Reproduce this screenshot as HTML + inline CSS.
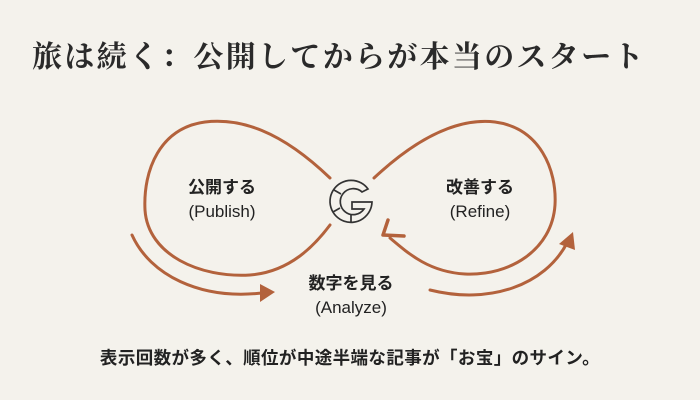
<!DOCTYPE html>
<html><head><meta charset="utf-8"><style>
html,body{margin:0;padding:0}
body{width:700px;height:400px;background:#f4f2ec;position:relative;overflow:hidden;font-family:"Liberation Sans","Noto Sans CJK JP",sans-serif;color:#222}
.t{position:absolute;left:32px;top:32px;font-family:"Liberation Serif","Noto Serif CJK SC",serif;font-weight:bold;font-size:30px;letter-spacing:2.3px;color:#2a2a2a;white-space:nowrap}
.b{position:absolute;left:0;width:700px;top:345px;text-align:center;font-weight:bold;font-size:17.5px;letter-spacing:0.4px;white-space:nowrap}
.l{position:absolute;text-align:center;font-size:17px;line-height:24px;width:140px}
</style></head><body>
<div class="t">旅は続く：公開してからが本当のスタート</div>
<svg width="700" height="400" style="position:absolute;left:0;top:0">
<g fill="none" stroke="#b3623c" stroke-width="3" stroke-linecap="round">
<path d="M330,178 C280,130 240,118 205,122 C160,128 143,170 145,210 C148,255 200,278 250,275 C290,272 315,245 330,225"/>
<path d="M374,178 C420,135 460,118 495,122 C540,128 557,170 555,205 C552,250 510,276 465,274 C430,272 410,255 390,238"/>
<path d="M383,235 L388,220 M383,235 L404,236" stroke-width="3.5"/>
<path d="M132,235 C150,275 200,300 262,293"/>
<path d="M430,290 C490,305 545,285 567,243"/>
</g>
<path d="M260,284 L275,292 L260,302 Z" fill="#b3623c"/>
<path d="M559,244 L573,232 L575,250 Z" fill="#b3623c"/>
<g fill="none" stroke="#333" stroke-width="1.7">
<path d="M368,189 A21,21 0 1 0 372,202 L352,202 L352,209 L364,209 A13,13 0 1 1 362,192 Z"/>
<path d="M334,190 L341,194 M333,212 L340,208 M351,222 L351,214"/>
</g>
</svg>
<div class="l" style="left:152px;top:176px"><b>公開する</b><br>(Publish)</div>
<div class="l" style="left:410px;top:176px"><b>改善する</b><br>(Refine)</div>
<div class="l" style="left:281px;top:272px"><b>数字を見る</b><br>(Analyze)</div>
<div class="b">表示回数が多く、順位が中途半端な記事が「お宝」のサイン。</div>
</body></html>
